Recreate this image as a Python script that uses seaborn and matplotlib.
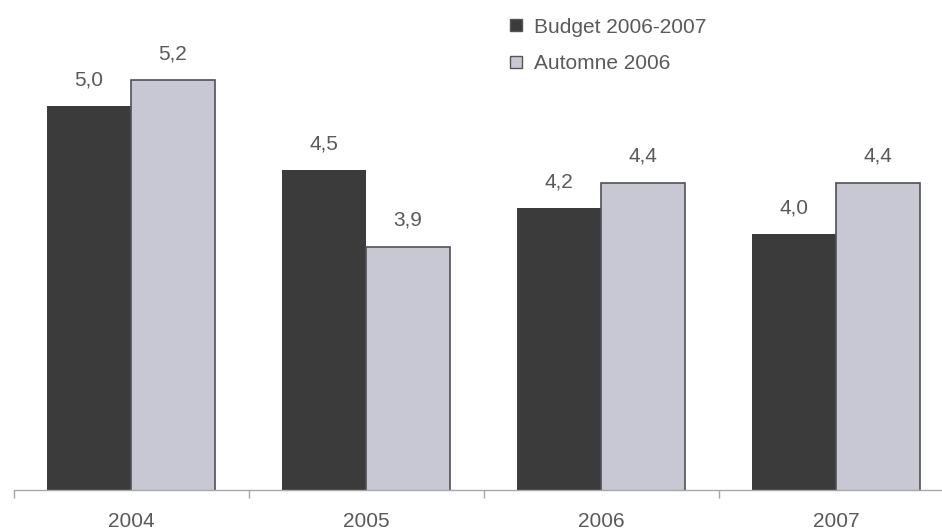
import pandas as pd
import matplotlib
matplotlib.use("Agg")
import matplotlib.pyplot as plt
import seaborn as sns
from matplotlib.lines import Line2D

years = ["2004", "2005", "2006", "2007"]
budget = [5.0, 4.5, 4.2, 4.0]
automne = [5.2, 3.9, 4.4, 4.4]
series_names = ["Budget 2006-2007", "Automne 2006"]

df = pd.DataFrame({
    "year": years * 2,
    "value": budget + automne,
    "series": [series_names[0]] * 4 + [series_names[1]] * 4,
})

sns.set_style("white")
plt.rcParams["font.family"] = ["Liberation Sans", "DejaVu Sans"]

dark = "#3b3b3b"
light = "#c7c8d3"
txt = "#5a5a5a"

fig = plt.figure(figsize=(9.42, 5.31), dpi=100)
ax = fig.add_axes([13.5 / 942, 41 / 531, 940 / 942, 480 / 531])

sns.barplot(data=df, x="year", y="value", hue="series", palette=[dark, light],
            width=0.714, ax=ax, legend=False, saturation=1)

n = len(years)
for i, p in enumerate(ax.patches[:2 * n]):
    if i < n:
        p.set_linewidth(0)
    else:
        p.set_edgecolor("#505058")
        p.set_linewidth(1.2)

vals = budget + automne
for p, v in zip(ax.patches[:2 * n], vals):
    ax.annotate(f"{v:.1f}".replace(".", ","),
                (p.get_x() + p.get_width() / 2, v),
                xytext=(0, 19), textcoords="offset points",
                ha="center", va="center", fontsize=15, color=txt)

ax.set_xlim(-0.5, n - 0.5)
ax.set_ylim(2, 2 + 480 / 128)
ax.set_xlabel("")
ax.set_ylabel("")
ax.set_yticks([])
for s in ["top", "right", "left"]:
    ax.spines[s].set_visible(False)
ax.spines["bottom"].set_color("#a8a8a8")
ax.spines["bottom"].set_linewidth(1)

ax.set_xticks(range(n))
ax.set_xticklabels(years, fontsize=15, color=txt)
ax.tick_params(axis="x", which="major", bottom=False, length=0, pad=16)
ax.set_xticks([i - 0.5 for i in range(n + 1)], minor=True)
ax.tick_params(axis="x", which="minor", bottom=True, length=6, width=1,
               color="#a8a8a8", direction="out")
ax.set_facecolor("none")

handles = [
    Line2D([], [], marker="s", linestyle="none", markersize=8.5,
           markerfacecolor=dark, markeredgecolor="#555555"),
    Line2D([], [], marker="s", linestyle="none", markersize=8.5,
           markerfacecolor=light, markeredgecolor="#555555"),
]
fig.legend(handles, series_names, loc="upper left",
           bbox_to_anchor=(492 / 942, 1 - 3 / 531), frameon=False,
           fontsize=15, labelcolor=txt, handlelength=0.9, handletextpad=0.4,
           labelspacing=0.85, borderpad=0.2)

fig.savefig("out.png", dpi=100, facecolor="white")
